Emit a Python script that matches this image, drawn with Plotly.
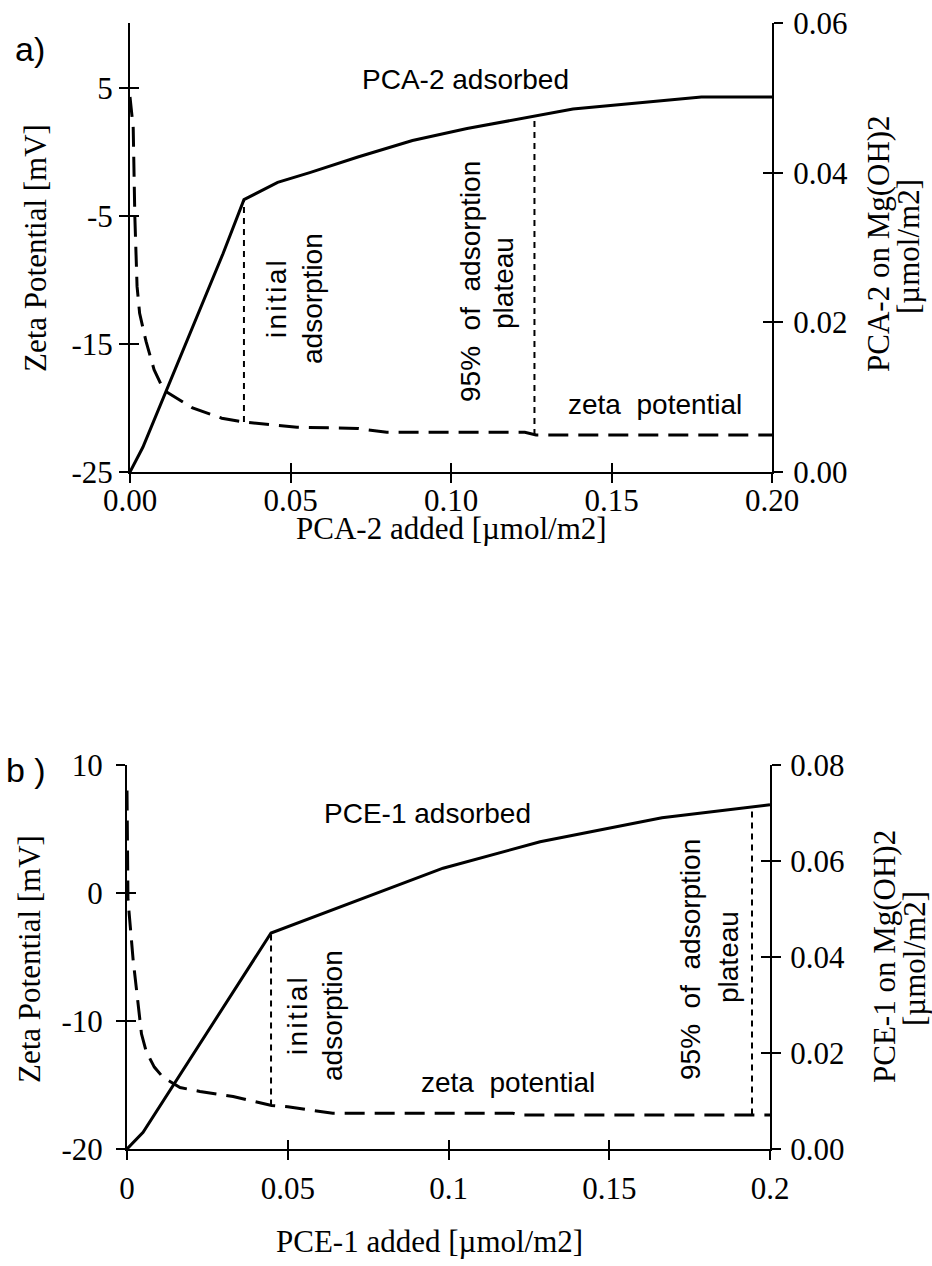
import plotly.graph_objects as go

# ---------------- data ----------------
# Panel a: PCA-2
a_ads_x = [0, 0.004, 0.029, 0.0355, 0.046, 0.056, 0.071, 0.088, 0.105, 0.126, 0.138, 0.178, 0.2]
a_ads_y = [0, 0.0033, 0.0292, 0.0364, 0.0387, 0.0400, 0.0421, 0.0443, 0.0459, 0.0475, 0.0485, 0.0501, 0.0501]
a_zeta_x = [0, 0.001, 0.0015, 0.0022, 0.003, 0.005, 0.0075, 0.0105, 0.0195, 0.0286, 0.0357, 0.052, 0.071, 0.080, 0.123, 0.1265, 0.2]
a_zeta_y = [4.3, 1.9, -5.0, -10.5, -12.6, -14.8, -17.0, -18.6, -20.0, -20.8, -21.1, -21.5, -21.6, -21.9, -21.9, -22.1, -22.1]
a_mark_x = [0.0355, 0.126]          # initial adsorption, 95% plateau
a_mark_bottom_mv = [-21.1, -22.1]   # on zeta (left) axis
a_mark_top = [0.0364, 0.0475]       # on adsorbed (right) axis

# Panel b: PCE-1
b_ads_x = [0, 0.005, 0.0448, 0.0983, 0.1285, 0.1664, 0.2]
b_ads_y = [0, 0.0035, 0.045, 0.0585, 0.064, 0.069, 0.0717]
b_zeta_x = [0, 0.0003, 0.0019, 0.0034, 0.0045, 0.006, 0.0085, 0.0112, 0.0165, 0.0227, 0.033, 0.045, 0.05, 0.058, 0.064, 0.12, 0.122, 0.2]
b_zeta_y = [8.0, -0.5, -5.2, -8.4, -11.0, -12.4, -13.6, -14.4, -15.2, -15.5, -15.9, -16.6, -16.7, -17.0, -17.2, -17.2, -17.35, -17.35]
b_mark_x = [0.0448, 0.1944]
b_mark_bottom_mv = [-16.6, -17.3]
b_mark_top = [0.045, 0.0706]

# axis ticks
a_x_ticks = [0, 0.05, 0.10, 0.15, 0.20]
a_x_text = ["0.00", "0.05", "0.10", "0.15", "0.20"]
a_yl_ticks = [5, -5, -15, -25]
a_yl_text = ["5", "-5", "-15", "-25"]
a_yr_ticks = [0, 0.02, 0.04, 0.06]
a_yr_text = ["0.00", "0.02", "0.04", "0.06"]
b_x_ticks = [0, 0.05, 0.1, 0.15, 0.2]
b_x_text = ["0", "0.05", "0.1", "0.15", "0.2"]
b_yl_ticks = [10, 0, -10, -20]
b_yl_text = ["10", "0", "-10", "-20"]
b_yr_ticks = [0, 0.02, 0.04, 0.06, 0.08]
b_yr_text = ["0.00", "0.02", "0.04", "0.06", "0.08"]

a_xr, a_ylr, a_yrr = [0, 0.2], [-25, 10.08], [0, 0.06]
b_xr, b_ylr, b_yrr = [0, 0.2], [-20, 10], [0, 0.08]

# ---------------- figure ----------------
W, H = 932, 1266
SERIF = "Liberation Serif, Times New Roman, serif"
SANS = "Liberation Sans, Arial, sans-serif"
NB = "\u00a0"   # wide word gaps as in the original lettering
HS = "\u200a"   # hair space for the letter-spaced word "initial"


def px(x):
    return x / W


def py(y):
    return 1 - y / H


def left_to_right(v, lr, rr):
    return (v - lr[0]) / (lr[1] - lr[0]) * (rr[1] - rr[0]) + rr[0]


fig = go.Figure()

solid = dict(color="black", width=3)
dashed = dict(color="black", width=3, dash="20px,10px")
dotted = dict(color="black", width=2, dash="6px,5px")

# panel a
fig.add_trace(go.Scatter(x=a_ads_x, y=a_ads_y, mode="lines", line=solid, xaxis="x", yaxis="y2"))
fig.add_trace(go.Scatter(x=a_zeta_x, y=a_zeta_y, mode="lines", line=dashed, xaxis="x", yaxis="y"))
for xm, yb, yt in zip(a_mark_x, a_mark_bottom_mv, a_mark_top):
    fig.add_trace(go.Scatter(x=[xm, xm], y=[left_to_right(yb, a_ylr, a_yrr), yt], mode="lines",
                             line=dotted, xaxis="x", yaxis="y2"))
# panel b
fig.add_trace(go.Scatter(x=b_ads_x, y=b_ads_y, mode="lines", line=solid, xaxis="x2", yaxis="y4"))
fig.add_trace(go.Scatter(x=b_zeta_x, y=b_zeta_y, mode="lines", line=dashed, xaxis="x2", yaxis="y3"))
for xm, yb, yt in zip(b_mark_x, b_mark_bottom_mv, b_mark_top):
    fig.add_trace(go.Scatter(x=[xm, xm], y=[left_to_right(yb, b_ylr, b_yrr), yt], mode="lines",
                             line=dotted, xaxis="x2", yaxis="y4"))

# invisible helpers so that the inside-tick overlay axes are drawn
for xa, ya in [("x3", "y"), ("x", "y5"), ("x", "y6"), ("x4", "y3"), ("x2", "y7"), ("x2", "y8")]:
    fig.add_trace(go.Scatter(x=[0.1], y=[0], mode="markers", marker=dict(size=1, opacity=0),
                             hoverinfo="skip", xaxis=xa, yaxis=ya))

tickfont = dict(family=SERIF, size=31, color="black")
base = dict(showline=True, linecolor="black", linewidth=2, ticks="outside", ticklen=9,
            tickwidth=2, tickcolor="black", showgrid=False, zeroline=False,
            tickfont=tickfont, fixedrange=True, automargin=False)
inside = dict(showline=False, ticks="inside", ticklen=9, tickwidth=2, tickcolor="black",
              showgrid=False, zeroline=False, showticklabels=False, fixedrange=True,
              automargin=False)

a_xdom = [px(130), px(772)]
a_ydom = [py(472), py(23)]
b_xdom = [px(127), px(770)]
b_ydom = [py(1149), py(765)]

fig.update_layout(
    width=W, height=H, margin=dict(l=0, r=0, t=0, b=0, pad=0, autoexpand=False),
    paper_bgcolor="white", plot_bgcolor="rgba(0,0,0,0)", showlegend=False,
    xaxis=dict(base, domain=a_xdom, anchor="y", range=a_xr, tickvals=a_x_ticks, ticktext=a_x_text,
               ticklabelstandoff=-9),
    yaxis=dict(base, domain=a_ydom, anchor="x", range=a_ylr, tickvals=a_yl_ticks, ticktext=a_yl_text),
    yaxis2=dict(base, overlaying="y", side="right", anchor="x", range=a_yrr,
                tickvals=a_yr_ticks, ticktext=a_yr_text, ticklabelstandoff=4),
    xaxis3=dict(inside, overlaying="x", anchor="y", range=a_xr, tickvals=a_x_ticks),
    yaxis5=dict(inside, overlaying="y", anchor="x", side="left", range=a_ylr, tickvals=a_yl_ticks),
    yaxis6=dict(inside, overlaying="y", anchor="x", side="right", range=a_yrr, tickvals=a_yr_ticks),
    xaxis2=dict(base, domain=b_xdom, anchor="y3", range=b_xr, tickvals=b_x_ticks, ticktext=b_x_text,
                ticklabelstandoff=2),
    yaxis3=dict(base, domain=b_ydom, anchor="x2", range=b_ylr, tickvals=b_yl_ticks, ticktext=b_yl_text,
                ticklabelstandoff=7),
    yaxis4=dict(base, overlaying="y3", side="right", anchor="x2", range=b_yrr,
                tickvals=b_yr_ticks, ticktext=b_yr_text, ticklabelstandoff=3),
    xaxis4=dict(inside, overlaying="x2", anchor="y3", range=b_xr, tickvals=b_x_ticks),
    yaxis7=dict(inside, overlaying="y3", anchor="x2", side="left", range=b_ylr, tickvals=b_yl_ticks),
    yaxis8=dict(inside, overlaying="y3", anchor="x2", side="right", range=b_yrr, tickvals=b_yr_ticks),
)

ann = []


def add_text(text, x, y, font, size, angle=0):
    ann.append(dict(text=text, x=px(x), y=py(y), xref="paper", yref="paper", showarrow=False,
                    xanchor="center", yanchor="middle", textangle=angle, borderpad=0,
                    font=dict(family=font, size=size, color="black")))


initial = HS.join("initial")
pct = "95%" + NB + " of" + NB + " adsorption"
zeta = "zeta" + NB + " potential"

# panel labels
add_text("a)", 30, 49, SANS, 34)
add_text("b )", 26, 770, SANS, 34)
# panel a texts
add_text("PCA-2 adsorbed", 465, 79, SANS, 28)
add_text(initial, 276, 299, SANS, 28, -90)
add_text("adsorption", 312, 299, SANS, 28, -90)
add_text(pct, 471, 282, SANS, 28, -90)
add_text("plateau", 503, 283, SANS, 28, -90)
add_text(zeta, 655, 404, SANS, 28)
# panel b texts
add_text("PCE-1 adsorbed", 427, 813, SANS, 28)
add_text(initial, 297, 1016, SANS, 28, -90)
add_text("adsorption", 332, 1016, SANS, 28, -90)
add_text(pct, 691, 960, SANS, 28, -90)
add_text("plateau", 728, 957, SANS, 28, -90)
add_text(zeta, 508, 1082, SANS, 28)
# axis titles panel a
add_text("Zeta Potential [mV]", 36, 248, SERIF, 31, -90)
add_text("PCA-2 on Mg(OH)2", 878, 244, SERIF, 31, -90)
add_text("[µmol/m2]", 908, 247, SERIF, 31, -90)
add_text("PCA-2 added [µmol/m2]", 451, 528, SERIF, 31)
# axis titles panel b
add_text("Zeta Potential [mV]", 29, 959, SERIF, 31, -90)
add_text("PCE-1 on Mg(OH)2", 884, 957, SERIF, 31, -90)
add_text("[µmol/m2]", 914, 959, SERIF, 31, -90)
add_text("PCE-1 added [µmol/m2]", 429, 1241, SERIF, 31)

fig.update_layout(annotations=ann)

fig.write_html("out.html")
